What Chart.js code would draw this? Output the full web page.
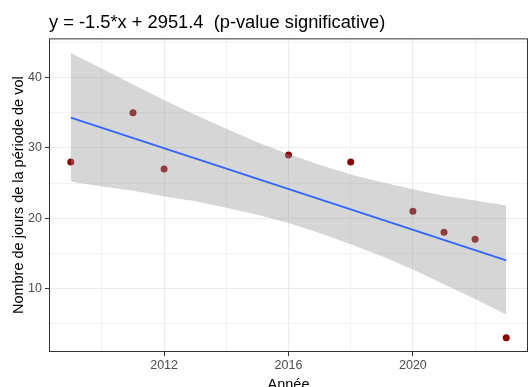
<!DOCTYPE html>
<html><head><meta charset="utf-8">
<script src="https://cdn.jsdelivr.net/npm/chart.js@4/dist/chart.umd.min.js"></script>
<style>html,body{margin:0;padding:0;background:#fff;overflow:hidden;} #wrap{width:528px;height:387px;}</style>
</head><body><div id="wrap"><canvas id="c" width="528" height="387"></canvas></div>
<script>
const years = [2009, 2011, 2012, 2016, 2018, 2020, 2021, 2022, 2023];
const days = [28, 35, 27, 29, 28, 21, 18, 17, 3];
const fitYears = [2009, 2023];
const fitDays = [34.3, 14.0];
const bandYears = [2009, 2010, 2011, 2012, 2013, 2014, 2015, 2016, 2017, 2018, 2019, 2020, 2021, 2022, 2023];
const bandUpper = [43.5, 41.3, 39.0, 36.8, 34.7, 32.7, 30.8, 29.1, 27.6, 26.2, 25.1, 24.1, 23.2, 22.5, 21.8];
const bandLower = [25.2, 24.5, 23.9, 23.1, 22.4, 21.5, 20.5, 19.3, 17.9, 16.3, 14.6, 12.7, 10.6, 8.5, 6.3];
const xTicks = [2010, 2012, 2014, 2016, 2018, 2020, 2022];
const xLabels = [2012, 2016, 2020];
const yTicks = [5, 10, 15, 20, 25, 30, 35, 40, 45];
const yLabels = [10, 20, 30, 40];
const titleText = 'y = -1.5*x + 2951.4  (p-value significative)';
const xTitle = 'Année';
const yTitle = 'Nombre de jours de la période de vol';

const FAMILY = "'Liberation Sans', Arial, sans-serif";
const pts = (xs, ys) => xs.map((x, i) => ({x: x, y: ys[i]}));

const borderPlugin = {
  id: 'panelBorder',
  afterDatasetsDraw(chart) {
    const {ctx, chartArea: a} = chart;
    ctx.save();
    ctx.strokeStyle = '#333333';
    ctx.lineWidth = 1;
    ctx.strokeRect(a.left + 0.5, a.top + 0.5, a.right - a.left - 1, a.bottom - a.top - 1);
    ctx.restore();
  }
};

new Chart(document.getElementById('c'), {
  type: 'scatter',
  data: {
    datasets: [
      { data: pts(fitYears, fitDays), showLine: true, borderColor: '#3366FF', borderWidth: 2,
        pointRadius: 0, fill: false, order: 0 },
      { data: pts(bandYears, bandUpper), showLine: true, borderWidth: 0, borderColor: 'rgba(0,0,0,0)',
        pointRadius: 0, backgroundColor: 'rgba(153,153,153,0.4)', fill: 2, order: 1 },
      { data: pts(bandYears, bandLower), showLine: true, borderWidth: 0, borderColor: 'rgba(0,0,0,0)',
        pointRadius: 0, fill: false, order: 2 },
      { data: pts(years, days), pointRadius: 3.5, pointBackgroundColor: '#8B0000', backgroundColor: '#8B0000',
        pointBorderWidth: 0, borderWidth: 0, order: 3 }
    ]
  },
  options: {
    responsive: false,
    animation: false,
    events: [],
    layout: { autoPadding: false, padding: { left: 0, right: -1.5, top: 0, bottom: 0 } },
    plugins: {
      legend: { display: false },
      tooltip: { enabled: false },
      title: {
        display: true, text: titleText, align: 'start', fullSize: false, color: '#000000',
        font: { size: 18.3, family: FAMILY, weight: 'normal' },
        padding: { top: 12, bottom: 4.4 }
      }
    },
    scales: {
      x: {
        type: 'linear', min: 2008.3, max: 2023.7,
        afterBuildTicks: s => { s.ticks = xTicks.map(v => ({value: v})); },
        afterFit: s => { s.height = 35; s.paddingRight = -1.5; s.paddingLeft = 0; },
        ticks: {
          callback: v => xLabels.includes(v) ? String(v) : '',
          color: '#4D4D4D', font: { size: 12.5, family: FAMILY }, padding: 2,
          maxRotation: 0, autoSkip: false
        },
        grid: {
          color: c => (c.tick && xLabels.includes(c.tick.value)) ? '#EBEBEB' : '#F2F2F2',
          lineWidth: 1, tickLength: 4,
          tickColor: c => (c.tick && xLabels.includes(c.tick.value)) ? '#333333' : 'rgba(0,0,0,0)'
        },
        border: { display: false },
        title: { display: true, text: xTitle, color: '#000000', font: { size: 14.5, family: FAMILY },
                 padding: { top: 0, bottom: -7 } }
      },
      y: {
        type: 'linear', min: 0.97, max: 45.57,
        afterBuildTicks: s => { s.ticks = yTicks.map(v => ({value: v})); },
        afterFit: s => { s.width = 49; s.paddingRight = -1.5; s.paddingLeft = 0; },
        ticks: {
          callback: v => yLabels.includes(v) ? String(v) : '',
          color: '#4D4D4D', font: { size: 12.5, family: FAMILY }, padding: 3, autoSkip: false
        },
        grid: {
          color: c => (c.tick && yLabels.includes(c.tick.value)) ? '#EBEBEB' : '#F2F2F2',
          lineWidth: 1, tickLength: 4,
          tickColor: c => (c.tick && yLabels.includes(c.tick.value)) ? '#333333' : 'rgba(0,0,0,0)'
        },
        border: { display: false },
        title: { display: true, text: yTitle, color: '#000000', font: { size: 14.5, family: FAMILY },
                 padding: { top: 10, bottom: 0 } }
      }
    }
  },
  plugins: [borderPlugin]
});
</script></body></html>
